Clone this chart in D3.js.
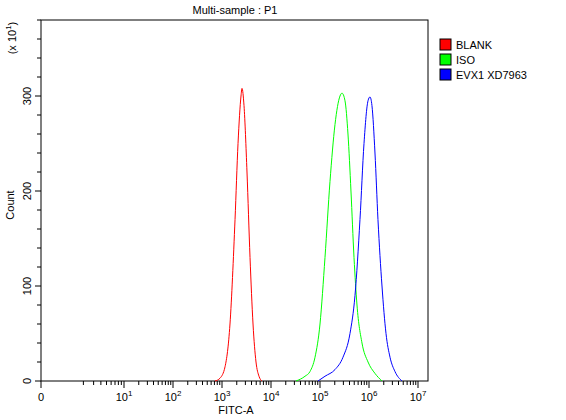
<!DOCTYPE html><html><head><script src="https://cdn.jsdelivr.net/npm/d3@7"></script>
<style>body{margin:0;background:#fff}text{font-family:"Liberation Sans",Arial,sans-serif;font-size:11px}</style></head><body>
<svg id="c" width="566" height="420"></svg>
<script>
const seriesNames=["BLANK","ISO","EVX1 XD7963"];
const colors=["#ff0000","#00ff00","#0000ff"];
// log10(FITC) , count/10
const blankLog=[2.857,2.960,3.062,3.163,3.266,3.327,3.388,3.408,3.449,3.510,3.572,3.633,3.694,3.755,3.816];
const blankCnt=[0,3,15,60,170,250,300,308,290,220,130,60,20,5,0];
const isoLog=[4.510,4.694,4.796,4.898,5.000,5.102,5.204,5.306,5.408,5.449,5.510,5.571,5.632,5.694,5.755,5.857,5.980,6.122,6.265];
const isoCnt=[0,5,10,25,60,130,210,270,300,303,295,260,200,130,80,40,20,8,0];
const evxLog=[4.959,5.102,5.306,5.469,5.612,5.714,5.816,5.898,5.980,6.020,6.060,6.122,6.183,6.265,6.347,6.429,6.530,6.674];
const evxCnt=[0,5,12,25,50,90,170,250,295,299,290,240,170,100,50,25,10,0];
const yTicks=[0,100,200,300];
const xDecades=[1,2,3,4,5,6,7];

const svg=d3.select("#c");
const L=41,R=428,T=20,B=381;
const y=d3.scaleLinear().domain([0,380]).range([B,T]);
const xl=d3.scaleLinear().domain([1,7]).range([124,418]);
const x0=d3.scaleLinear().domain([0,1]).range([L,124]);
svg.append("rect").attr("x",L).attr("y",T).attr("width",R-L).attr("height",B-T).attr("fill","none").attr("stroke","#000");
for(let v=0;v<=380;v+=20){const maj=v%100===0;svg.append("line").attr("x1",L-(maj?6:4)).attr("x2",L).attr("y1",y(v)).attr("y2",y(v)).attr("stroke","#000");}
yTicks.forEach(v=>svg.append("text").attr("transform",`translate(${L-10},${y(v)}) rotate(-90)`).attr("text-anchor","middle").text(v));
xDecades.forEach(d=>{svg.append("line").attr("x1",xl(d)).attr("x2",xl(d)).attr("y1",B).attr("y2",B+7).attr("stroke","#000");
 const t=svg.append("text").attr("x",xl(d)).attr("y",B+20).attr("text-anchor","middle");t.append("tspan").text("10");t.append("tspan").attr("dy",-5).attr("font-size","8px").text(d);
 if(d<7)for(let k=2;k<10;k++){const xx=xl(d+Math.log10(k));svg.append("line").attr("x1",xx).attr("x2",xx).attr("y1",B).attr("y2",B+4).attr("stroke","#000");}});
svg.append("line").attr("x1",L).attr("x2",L).attr("y1",B).attr("y2",B+7).attr("stroke","#000");
for(let k=2;k<10;k++){const xx=x0(0.3+0.7*Math.log10(k));svg.append("line").attr("x1",xx).attr("x2",xx).attr("y1",B).attr("y2",B+4).attr("stroke","#000");}
svg.append("text").attr("x",L).attr("y",B+20).attr("text-anchor","middle").text("0");
svg.append("text").attr("x",236).attr("y",414).attr("text-anchor","middle").text("FITC-A");
svg.append("text").attr("transform","translate(14,205) rotate(-90)").attr("text-anchor","middle").text("Count");
const yl=svg.append("text").attr("transform","translate(16,38) rotate(-90)").attr("text-anchor","middle");yl.append("tspan").text("(x 10");yl.append("tspan").attr("dy",-5).attr("font-size","8px").text("1");yl.append("tspan").attr("dy",5).text(")");
svg.append("text").attr("x",235).attr("y",14).attr("text-anchor","middle").text("Multi-sample : P1");
const line=d3.line().x(d=>xl(d[0])).y(d=>y(d[1])).curve(d3.curveMonotoneX);
[[blankLog,blankCnt],[isoLog,isoCnt],[evxLog,evxCnt]].forEach((s,i)=>{
 svg.append("path").attr("d",line(s[0].map((v,j)=>[v,s[1][j]]))).attr("fill","none").attr("stroke",colors[i]).attr("stroke-width",1);});
seriesNames.forEach((n,i)=>{svg.append("rect").attr("x",440).attr("y",39+i*15).attr("width",11).attr("height",11).attr("fill",colors[i]).attr("stroke","#000");
 svg.append("text").attr("x",456).attr("y",49+i*15).text(n);});
</script></body></html>
